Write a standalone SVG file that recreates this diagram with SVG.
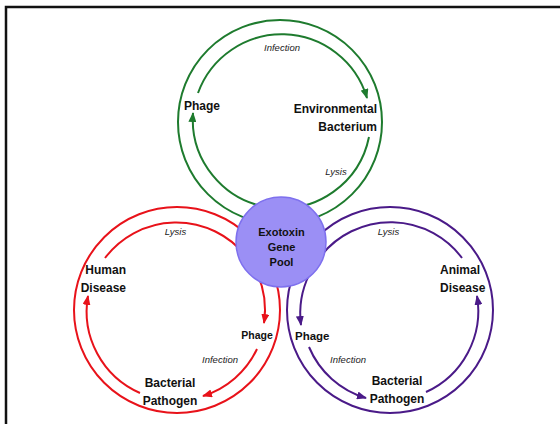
<svg xmlns="http://www.w3.org/2000/svg" width="560" height="424" viewBox="0 0 560 424">
<defs>
<style>
.ring{fill:none;stroke-width:2}
.g{stroke:#1e7b2e}.r{stroke:#e8121a}.p{stroke:#4a1a88}
.lbl{font-family:"Liberation Sans",Arial,sans-serif;font-weight:bold;font-size:12px;fill:#111}
.sm{font-family:"Liberation Sans",Arial,sans-serif;font-style:italic;font-size:9.5px;fill:#222;text-anchor:middle}
.pool{font-family:"Liberation Sans",Arial,sans-serif;font-weight:bold;font-size:11px;fill:#111;text-anchor:middle}
</style>
<marker id="ag" markerWidth="10" markerHeight="8" refX="9" refY="4" orient="auto" markerUnits="userSpaceOnUse"><path d="M0,0 L10,4 L0,8 z" fill="#1e7b2e"/></marker>
<marker id="ar" markerWidth="10" markerHeight="8" refX="9" refY="4" orient="auto" markerUnits="userSpaceOnUse"><path d="M0,0 L10,4 L0,8 z" fill="#e8121a"/></marker>
<marker id="ap" markerWidth="10" markerHeight="8" refX="9" refY="4" orient="auto" markerUnits="userSpaceOnUse"><path d="M0,0 L10,4 L0,8 z" fill="#4a1a88"/></marker>
</defs>
<rect width="560" height="424" fill="#fff"/>
<path d="M6,424 V7 H560" fill="none" stroke="#111" stroke-width="2.5"/>
<g id="connectors">
<circle class="ring g" cx="280" cy="122" r="102"/>
<path class="ring g" d="M198,93 A89,89 0 0 1 367,98" marker-end="url(#ag)"/>
<path class="ring g" d="M369,137 A89,89 0 0 1 193,113" marker-end="url(#ag)"/>
<circle class="ring r" cx="177" cy="310" r="103"/>
<path class="ring r" d="M245,255 A89,89 0 0 0 105,258"/>
<path class="ring r" d="M140,393 A89,89 0 0 1 88,296" marker-end="url(#ar)"/>
<path class="ring r" d="M257.7,274.4 A89,89 0 0 1 264,323" marker-end="url(#ar)"/>
<path class="ring r" d="M257,349 A89,89 0 0 1 203,396" marker-end="url(#ar)"/>
<circle class="ring p" cx="390" cy="310" r="103"/>
<path class="ring p" d="M321.8,254.8 A89,89 0 0 1 462,258"/>
<path class="ring p" d="M426,392 A89,89 0 0 0 477,296" marker-end="url(#ap)"/>
<path class="ring p" d="M309.3,274.4 A89,89 0 0 0 301,325" marker-end="url(#ap)"/>
<path class="ring p" d="M309,347 A89,89 0 0 0 366,398" marker-end="url(#ap)"/>
</g>
<g id="gene-pool">
<circle cx="281" cy="242" r="45" fill="#9b8ff5" stroke="#7e70ee" stroke-width="1.5"/>
<text class="pool" x="281.5" y="235.5">Exotoxin</text>
<text class="pool" x="281.5" y="251">Gene</text>
<text class="pool" x="281.5" y="266">Pool</text>
</g>
<g id="green-cycle">
<text class="sm" x="282" y="50.5">Infection</text>
<text class="lbl" x="184" y="110">Phage</text>
<text class="lbl" x="377" y="113" text-anchor="end">Environmental</text>
<text class="lbl" x="377" y="131" text-anchor="end">Bacterium</text>
<text class="sm" x="336" y="175">Lysis</text>
</g>
<g id="red-cycle">
<text class="sm" x="175.5" y="234.5">Lysis</text>
<text class="lbl" x="126" y="273.5" text-anchor="end">Human</text>
<text class="lbl" x="126" y="291.5" text-anchor="end">Disease</text>
<text class="lbl" x="257" y="338.5" text-anchor="middle" style="font-size:10.5px">Phage</text>
<text class="sm" x="220" y="362.5">Infection</text>
<text class="lbl" x="170" y="386.5" text-anchor="middle">Bacterial</text>
<text class="lbl" x="170" y="404.5" text-anchor="middle">Pathogen</text>
</g>
<g id="purple-cycle">
<text class="sm" x="388.5" y="234.5">Lysis</text>
<text class="lbl" x="440" y="273.5">Animal</text>
<text class="lbl" x="440" y="291.5">Disease</text>
<text class="lbl" x="295" y="340" style="font-size:11.5px">Phage</text>
<text class="sm" x="348" y="362.5">Infection</text>
<text class="lbl" x="397" y="384.5" text-anchor="middle">Bacterial</text>
<text class="lbl" x="397" y="402.5" text-anchor="middle">Pathogen</text>
</g>
</svg>
